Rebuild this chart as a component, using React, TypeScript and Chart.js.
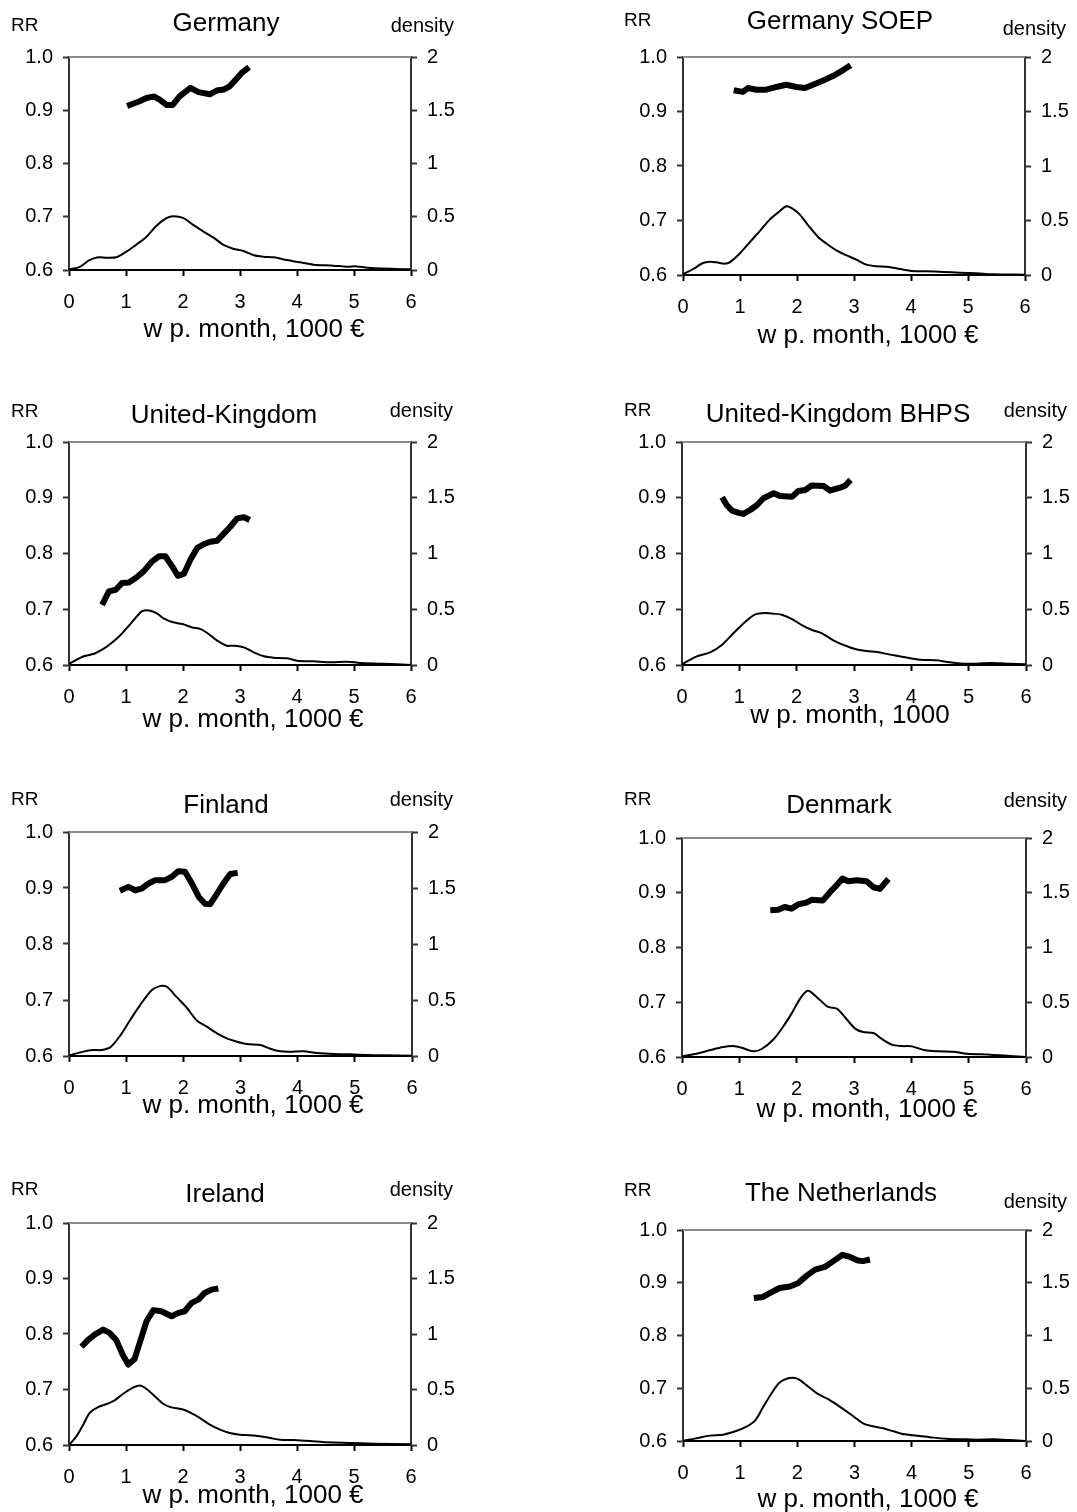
import React, { useEffect, useRef } from "react";
import { Chart, registerables } from "chart.js";

Chart.register(...registerables);

const FONT = '"Liberation Sans", Arial, Helvetica, sans-serif';

type Pt = [number, number];

// axis ticks and their labels
const wageTicks = [0, 1, 2, 3, 4, 5, 6];
const rrTicks = [0.6, 0.7, 0.8, 0.9, 1.0];
const rrTickLabels = ["0.6", "0.7", "0.8", "0.9", "1.0"];
const densityTicks = [0, 0.5, 1, 1.5, 2];
const densityTickLabels = ["0", "0.5", "1", "1.5", "2"];

const panelTitles = [
  "Germany",
  "Germany SOEP",
  "United-Kingdom",
  "United-Kingdom BHPS",
  "Finland",
  "Denmark",
  "Ireland",
  "The Netherlands",
];
const wageAxisTitles = [
  "w p. month, 1000 €",
  "w p. month, 1000 €",
  "w p. month, 1000 €",
  "w p. month, 1000",
  "w p. month, 1000 €",
  "w p. month, 1000 €",
  "w p. month, 1000 €",
  "w p. month, 1000 €",
];
const leftAxisLabel = "RR";
const rightAxisLabel = "density";

// replacement rate (left axis) and wage density (right axis), wage in 1000 € per month
const germanyRR: Pt[] = [
  [1.02, 0.908], [1.24, 0.917], [1.36, 0.923], [1.49, 0.926], [1.59, 0.92], [1.71, 0.91],
  [1.82, 0.91], [1.94, 0.926], [2.13, 0.942], [2.27, 0.934], [2.47, 0.93], [2.59, 0.937],
  [2.72, 0.939], [2.82, 0.945], [2.94, 0.959], [3.03, 0.97], [3.16, 0.981],
];
const germanyDensity: Pt[] = [
  [0, 0.006], [0.19, 0.03], [0.35, 0.09], [0.51, 0.12], [0.66, 0.116], [0.83, 0.12],
  [0.98, 0.163], [1.15, 0.226], [1.36, 0.313], [1.53, 0.414], [1.71, 0.486], [1.83, 0.505],
  [2.0, 0.489], [2.18, 0.423], [2.36, 0.36], [2.53, 0.307], [2.71, 0.235], [2.88, 0.2],
  [3.06, 0.179], [3.23, 0.141], [3.41, 0.125], [3.59, 0.119], [3.82, 0.094], [4.05, 0.072],
  [4.29, 0.05], [4.64, 0.041], [4.87, 0.031], [5.05, 0.034], [5.23, 0.022], [5.52, 0.013],
  [6.0, 0.006],
];

const soepRR: Pt[] = [
  [0.89, 0.939], [1.05, 0.936], [1.14, 0.943], [1.29, 0.94], [1.46, 0.94], [1.64, 0.945],
  [1.81, 0.949], [1.99, 0.945], [2.14, 0.943], [2.28, 0.949], [2.46, 0.957], [2.63, 0.965],
  [2.81, 0.976], [2.94, 0.985],
];
const soepDensity: Pt[] = [
  [0, 0.006], [0.18, 0.055], [0.35, 0.11], [0.47, 0.122], [0.59, 0.116], [0.73, 0.104],
  [0.82, 0.116], [1.0, 0.2], [1.17, 0.3], [1.35, 0.404], [1.52, 0.508], [1.7, 0.587],
  [1.81, 0.63], [1.9, 0.615], [2.05, 0.554], [2.2, 0.453], [2.37, 0.349], [2.52, 0.287],
  [2.69, 0.226], [2.87, 0.18], [3.04, 0.141], [3.22, 0.095], [3.4, 0.08], [3.57, 0.076],
  [3.81, 0.055], [4.01, 0.037], [4.27, 0.034], [4.57, 0.028], [4.86, 0.021], [5.15, 0.015],
  [5.44, 0.006], [6, 0.003],
];

const ukRR: Pt[] = [
  [0.58, 0.708], [0.7, 0.732], [0.82, 0.735], [0.93, 0.747], [1.05, 0.748], [1.17, 0.756],
  [1.31, 0.768], [1.46, 0.786], [1.58, 0.795], [1.69, 0.795], [1.81, 0.777], [1.91, 0.76],
  [2.02, 0.764], [2.13, 0.789], [2.25, 0.81], [2.37, 0.817], [2.48, 0.821], [2.6, 0.823],
  [2.72, 0.836], [2.83, 0.848], [2.95, 0.863], [3.07, 0.865], [3.17, 0.86],
];
const ukDensity: Pt[] = [
  [0, 0.012], [0.26, 0.078], [0.44, 0.101], [0.58, 0.137], [0.73, 0.191], [0.91, 0.272],
  [1.05, 0.352], [1.2, 0.442], [1.29, 0.484], [1.43, 0.487], [1.55, 0.46], [1.66, 0.418],
  [1.81, 0.385], [1.99, 0.367], [2.16, 0.337], [2.31, 0.322], [2.45, 0.278], [2.6, 0.218],
  [2.77, 0.173], [2.89, 0.173], [3.07, 0.158], [3.24, 0.113], [3.42, 0.078], [3.59, 0.066],
  [3.83, 0.06], [4.0, 0.039], [4.29, 0.033], [4.59, 0.024], [4.88, 0.03], [5.11, 0.018],
  [5.52, 0.012], [6, 0.0],
];

const bhpsRR: Pt[] = [
  [0.7, 0.901], [0.78, 0.887], [0.87, 0.877], [0.99, 0.873], [1.07, 0.871], [1.19, 0.878],
  [1.31, 0.887], [1.42, 0.899], [1.6, 0.908], [1.71, 0.903], [1.92, 0.902], [2.03, 0.912],
  [2.15, 0.914], [2.26, 0.922], [2.47, 0.921], [2.58, 0.913], [2.76, 0.918], [2.85, 0.922],
  [2.94, 0.932],
];
const bhpsDensity: Pt[] = [
  [0, 0.006], [0.26, 0.078], [0.49, 0.113], [0.7, 0.182], [0.9, 0.287], [1.13, 0.4],
  [1.28, 0.454], [1.45, 0.466], [1.6, 0.46], [1.74, 0.451], [1.92, 0.412], [2.09, 0.358],
  [2.26, 0.316], [2.44, 0.284], [2.64, 0.221], [2.82, 0.179], [3.02, 0.143], [3.22, 0.125],
  [3.4, 0.116], [3.63, 0.093], [3.86, 0.072], [4.15, 0.048], [4.44, 0.042], [4.67, 0.024],
  [4.91, 0.012], [5.14, 0.012], [5.37, 0.018], [5.72, 0.012], [6, 0.006],
];

const finlandRR: Pt[] = [
  [0.89, 0.895], [1.04, 0.902], [1.16, 0.896], [1.27, 0.899], [1.39, 0.908], [1.51, 0.914],
  [1.68, 0.914], [1.8, 0.92], [1.91, 0.93], [2.03, 0.929], [2.15, 0.908], [2.27, 0.884],
  [2.38, 0.872], [2.47, 0.871], [2.59, 0.89], [2.7, 0.908], [2.82, 0.925], [2.95, 0.927],
];
const finlandDensity: Pt[] = [
  [0, 0.006], [0.25, 0.039], [0.43, 0.053], [0.57, 0.053], [0.72, 0.077], [0.89, 0.178],
  [1.07, 0.321], [1.24, 0.452], [1.45, 0.589], [1.59, 0.624], [1.71, 0.618], [1.89, 0.523],
  [2.06, 0.431], [2.24, 0.315], [2.41, 0.262], [2.59, 0.202], [2.76, 0.158], [2.94, 0.128],
  [3.11, 0.107], [3.35, 0.098], [3.52, 0.065], [3.7, 0.042], [3.87, 0.039], [4.1, 0.042],
  [4.34, 0.027], [4.63, 0.018], [4.92, 0.015], [5.21, 0.009], [5.5, 0.006], [6, 0.003],
];

const denmarkRR: Pt[] = [
  [1.54, 0.868], [1.68, 0.869], [1.79, 0.874], [1.91, 0.871], [2.03, 0.879], [2.17, 0.882],
  [2.26, 0.887], [2.46, 0.886], [2.58, 0.901], [2.7, 0.914], [2.8, 0.926], [2.9, 0.921],
  [3.05, 0.923], [3.22, 0.921], [3.34, 0.91], [3.45, 0.907], [3.6, 0.925],
];
const denmarkDensity: Pt[] = [
  [0, 0.006], [0.25, 0.03], [0.48, 0.061], [0.72, 0.091], [0.89, 0.1], [1.04, 0.085],
  [1.24, 0.052], [1.39, 0.073], [1.59, 0.158], [1.76, 0.274], [1.91, 0.396], [2.06, 0.533],
  [2.17, 0.6], [2.23, 0.6], [2.38, 0.533], [2.55, 0.457], [2.7, 0.441], [2.84, 0.365],
  [3.02, 0.259], [3.16, 0.228], [3.34, 0.219], [3.48, 0.167], [3.66, 0.113], [3.83, 0.1],
  [4.01, 0.097], [4.24, 0.061], [4.47, 0.052], [4.74, 0.049], [4.97, 0.03], [5.38, 0.021],
  [5.73, 0.009], [6, 0],
];

const irelandRR: Pt[] = [
  [0.22, 0.777], [0.33, 0.789], [0.45, 0.799], [0.6, 0.808], [0.71, 0.802], [0.83, 0.789],
  [0.94, 0.763], [1.04, 0.745], [1.15, 0.755], [1.24, 0.784], [1.36, 0.823], [1.48, 0.843],
  [1.62, 0.841], [1.8, 0.832], [1.92, 0.838], [2.03, 0.841], [2.15, 0.856], [2.27, 0.862],
  [2.38, 0.874], [2.5, 0.88], [2.62, 0.882],
];
const irelandDensity: Pt[] = [
  [0, 0], [0.13, 0.078], [0.25, 0.183], [0.36, 0.288], [0.51, 0.342], [0.66, 0.369],
  [0.8, 0.402], [0.95, 0.462], [1.1, 0.511], [1.24, 0.535], [1.36, 0.505], [1.51, 0.438],
  [1.65, 0.372], [1.8, 0.339], [1.97, 0.324], [2.12, 0.294], [2.3, 0.243], [2.47, 0.183],
  [2.65, 0.138], [2.82, 0.108], [3.0, 0.093], [3.18, 0.087], [3.35, 0.078], [3.53, 0.063],
  [3.7, 0.048], [3.94, 0.045], [4.23, 0.036], [4.52, 0.024], [4.93, 0.018], [5.34, 0.012],
  [6, 0.006],
];

const netherlandsRR: Pt[] = [
  [1.24, 0.871], [1.4, 0.873], [1.55, 0.882], [1.69, 0.89], [1.87, 0.893], [2.01, 0.899],
  [2.16, 0.913], [2.31, 0.925], [2.48, 0.93], [2.63, 0.941], [2.79, 0.953], [2.92, 0.949],
  [3.06, 0.942], [3.15, 0.941], [3.27, 0.944],
];
const netherlandsDensity: Pt[] = [
  [0, 0.003], [0.23, 0.025], [0.47, 0.051], [0.7, 0.06], [0.93, 0.095], [1.11, 0.136],
  [1.26, 0.193], [1.4, 0.32], [1.55, 0.453], [1.69, 0.554], [1.84, 0.595], [1.96, 0.598],
  [2.04, 0.579], [2.19, 0.516], [2.36, 0.446], [2.54, 0.396], [2.74, 0.326], [2.95, 0.247],
  [3.15, 0.168], [3.3, 0.142], [3.5, 0.12], [3.68, 0.092], [3.88, 0.063], [4.14, 0.047],
  [4.38, 0.032], [4.61, 0.022], [4.9, 0.016], [5.14, 0.013], [5.43, 0.016], [5.72, 0.009],
  [6, 0],
];

const rrSeries = [germanyRR, soepRR, ukRR, bhpsRR, finlandRR, denmarkRR, irelandRR, netherlandsRR];
const densitySeries = [
  germanyDensity, soepDensity, ukDensity, bhpsDensity,
  finlandDensity, denmarkDensity, irelandDensity, netherlandsDensity,
];

// page layout: canvas bands and, per panel, plot rectangle and text anchors (page pixels)
const COLS = [{ x: 0, w: 540 }, { x: 540, w: 537 }];
const ROWS = [{ y: 0, h: 370 }, { y: 370, h: 390 }, { y: 760, h: 390 }, { y: 1150, h: 362 }];

type Frame = {
  col: number; row: number;
  l: number; t: number; r: number; b: number;
  rr: [number, number]; title: [number, number]; dens: [number, number]; xt: [number, number];
};

const frames: Frame[] = [
  { col: 0, row: 0, l: 69, t: 57, r: 411, b: 270, rr: [11, 31], title: [226, 31], dens: [454, 32], xt: [254, 337] },
  { col: 1, row: 0, l: 683, t: 57, r: 1025, b: 275, rr: [624, 26], title: [840, 29], dens: [1066, 35], xt: [868, 343] },
  { col: 0, row: 1, l: 69, t: 442, r: 411, b: 665, rr: [11, 417], title: [224, 423], dens: [453, 417], xt: [253, 727] },
  { col: 1, row: 1, l: 682, t: 442, r: 1026, b: 665, rr: [624, 416], title: [838, 422], dens: [1067, 417], xt: [850, 723] },
  { col: 0, row: 2, l: 69, t: 832, r: 412, b: 1056, rr: [11, 805], title: [226, 813], dens: [453, 806], xt: [253, 1113] },
  { col: 1, row: 2, l: 682, t: 838, r: 1026, b: 1057, rr: [624, 805], title: [839, 813], dens: [1067, 807], xt: [867, 1117] },
  { col: 0, row: 3, l: 69, t: 1223, r: 411, b: 1445, rr: [11, 1195], title: [225, 1202], dens: [453, 1196], xt: [253, 1503] },
  { col: 1, row: 3, l: 683, t: 1230, r: 1026, b: 1441, rr: [624, 1196], title: [841, 1201], dens: [1067, 1208], xt: [868, 1507] },
];

function band(f: Frame) {
  const c = COLS[f.col];
  const r = ROWS[f.row];
  return { x: c.x, y: r.y, w: c.w, h: r.h };
}

const toXY = (pts: Pt[]) => pts.map(([x, y]) => ({ x, y }));
const labelFor = (ticks: number[], labels: string[]) => (v: number | string) => {
  const i = ticks.findIndex((t) => Math.abs(t - Number(v)) < 1e-9);
  return i >= 0 ? labels[i] : "";
};

function buildChart(canvas: HTMLCanvasElement, idx: number) {
  const f = frames[idx];
  const bx = band(f);
  const ox = bx.x;
  const oy = bx.y;

  const panelText = {
    id: "panelText",
    afterDraw(chart: any) {
      const { ctx, chartArea } = chart;
      ctx.save();
      // grey frame line along the top of the plot area
      ctx.strokeStyle = "#8c8c8c";
      ctx.lineWidth = 2;
      ctx.beginPath();
      ctx.moveTo(chartArea.left, chartArea.top);
      ctx.lineTo(chartArea.right, chartArea.top);
      ctx.stroke();

      ctx.fillStyle = "#000";
      ctx.textBaseline = "alphabetic";
      ctx.font = `19px ${FONT}`;
      ctx.textAlign = "left";
      ctx.fillText(leftAxisLabel, f.rr[0] - ox, f.rr[1] - oy);
      ctx.font = `20px ${FONT}`;
      ctx.textAlign = "right";
      ctx.fillText(rightAxisLabel, f.dens[0] - ox, f.dens[1] - oy);
      ctx.font = `26px ${FONT}`;
      ctx.textAlign = "center";
      ctx.fillText(panelTitles[idx], f.title[0] - ox, f.title[1] - oy);
      ctx.font = `26px ${FONT}`;
      ctx.fillText(wageAxisTitles[idx], f.xt[0] - ox, f.xt[1] - oy);
      ctx.restore();
    },
  };

  const tickFont = { family: FONT, size: 20 };
  const axisColor = "#333";

  return new Chart(canvas, {
    type: "line",
    data: {
      datasets: [
        {
          data: toXY(rrSeries[idx]),
          yAxisID: "yRR",
          borderColor: "#000",
          borderWidth: 6,
          pointRadius: 0,
          tension: 0,
          borderJoinStyle: "round",
        },
        {
          data: toXY(densitySeries[idx]),
          yAxisID: "yDen",
          borderColor: "#000",
          borderWidth: 2,
          pointRadius: 0,
          tension: 0.3,
        },
      ],
    },
    options: {
      responsive: false,
      animation: false,
      devicePixelRatio: 1,
      layout: { padding: { top: f.t - oy, left: 0, right: 0, bottom: 0 } },
      plugins: {
        legend: { display: false },
        tooltip: { enabled: false },
        title: { display: false },
      },
      scales: {
        x: {
          type: "linear",
          position: "bottom",
          min: 0,
          max: 6,
          afterBuildTicks: (s: any) => {
            s.ticks = wageTicks.map((v) => ({ value: v }));
          },
          afterFit: (s: any) => {
            s.height = oy + bx.h - f.b;
          },
          grid: { drawOnChartArea: false, tickLength: 6, color: "#000", tickWidth: 2 },
          border: { color: "#000", width: 2 },
          ticks: {
            font: tickFont,
            color: "#000",
            padding: 14,
            maxRotation: 0,
            autoSkip: false,
            callback: (v: any) => String(v),
          },
        },
        yRR: {
          type: "linear",
          position: "left",
          min: 0.6,
          max: 1.0,
          afterBuildTicks: (s: any) => {
            s.ticks = rrTicks.map((v) => ({ value: v }));
          },
          afterFit: (s: any) => {
            s.width = f.l - ox;
          },
          grid: { drawOnChartArea: false, tickLength: 6, color: axisColor, tickWidth: 2 },
          border: { color: axisColor, width: 2 },
          ticks: {
            font: tickFont,
            color: "#000",
            padding: 10,
            autoSkip: false,
            callback: labelFor(rrTicks, rrTickLabels),
          },
        },
        yDen: {
          type: "linear",
          position: "right",
          min: 0,
          max: 2,
          afterBuildTicks: (s: any) => {
            s.ticks = densityTicks.map((v) => ({ value: v }));
          },
          afterFit: (s: any) => {
            s.width = ox + bx.w - f.r;
          },
          grid: { drawOnChartArea: false, tickLength: 6, color: axisColor, tickWidth: 2 },
          border: { color: axisColor, width: 2 },
          ticks: {
            font: tickFont,
            color: "#000",
            padding: 10,
            autoSkip: false,
            callback: labelFor(densityTicks, densityTickLabels),
          },
        },
      },
    } as any,
    plugins: [panelText],
  } as any);
}

export default function App() {
  const refs = useRef<(HTMLCanvasElement | null)[]>([]);

  useEffect(() => {
    const charts: Chart[] = [];
    frames.forEach((_, i) => {
      const c = refs.current[i];
      if (c) charts.push(buildChart(c, i));
    });
    return () => {
      charts.forEach((c) => c.destroy());
    };
  }, []);

  return (
    <div
      style={{
        position: "absolute",
        left: 0,
        top: 0,
        width: 1077,
        height: 1512,
        background: "#fff",
        overflow: "hidden",
      }}
    >
      {frames.map((f, i) => {
        const b = band(f);
        return (
          <canvas
            key={i}
            ref={(el) => {
              refs.current[i] = el;
            }}
            width={b.w}
            height={b.h}
            style={{ position: "absolute", left: b.x, top: b.y, width: b.w, height: b.h }}
          />
        );
      })}
    </div>
  );
}
